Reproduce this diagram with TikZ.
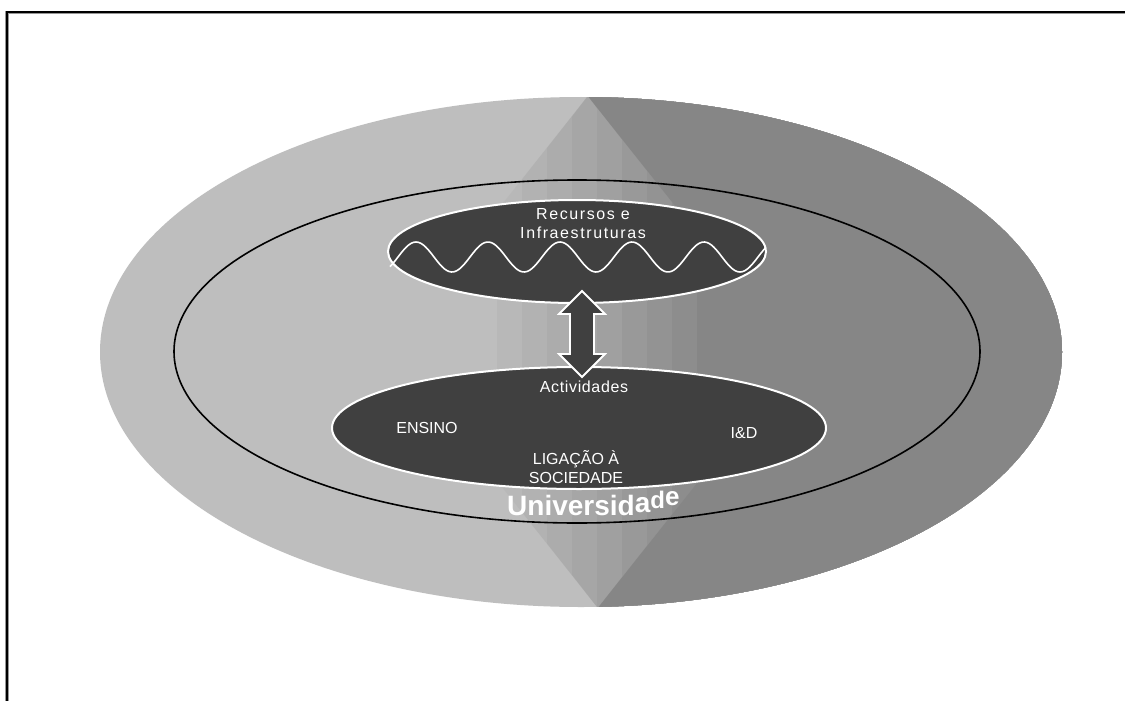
\documentclass[tikz,border=0pt]{standalone}
\usepackage{fontspec}
\setmainfont{Liberation Sans}
\usetikzlibrary{shapes.geometric}
\definecolor{darkfill}{RGB}{64,64,64}
\definecolor{lightside}{RGB}{190,190,190}
\definecolor{framegray}{RGB}{150,150,150}
\begin{document}
\begin{tikzpicture}[x=1pt,y=-1pt,
  blob/.style={ellipse, fill=darkfill, draw=white, line width=2pt, inner sep=0pt},
  lbl/.style={text=white, font=\fontsize{16}{19}\selectfont, align=center, inner sep=0pt},
  wave/.style={white, line width=1.6pt},
  arrowbody/.style={fill=darkfill, draw=white, line width=1.8pt, line join=miter},
  ring/.style={black, line width=1.6pt}]
\useasboundingbox (0,0) rectangle (1125,701);
\fill[white] (0,0) rectangle (1125,701);
% frame
\draw[framegray, line width=3.6pt] (1125,12.5) -- (7,12.5) -- (7,701);
\draw[black, line width=2pt] (1125,12.5) -- (7,12.5) -- (7,701);
% outer shaded ellipse
\begin{scope}
  \clip (581,352) ellipse [x radius=481, y radius=255];
  \fill[lightside] (0,0) rectangle (1125,701);
  \foreach \d/\c in {-100/184,-75/178,-50/172,-25/166,0/160,25/153,50/147,75/141,100/134}{
    \pgfmathsetmacro\yt{97+abs(597+\d-588)*1.25}
    \pgfmathsetmacro\yb{607-abs(597+\d-598)*1.25}
    \fill[fill={rgb,255:red,\c;green,\c;blue,\c}] (588,96) -- (597+\d,\yt) -- (597+\d,\yb) -- (598,608) -- (1125,620) -- (1125,80) -- cycle;
  }
\end{scope}
% inner ring
\draw[ring] (577,351.5) ellipse [x radius=403, y radius=171.5];
% top ellipse
\node[blob, minimum width=378, minimum height=103] (res) at (577,251.5) {};
\draw[wave] plot[domain=390:766, samples=160, smooth] (\x,{257-15*sin(5*(\x-398))});
\node[lbl] (reclbl) at (583,224) {\addfontfeature{LetterSpace=10}Recursos e\\\addfontfeature{LetterSpace=10}Infraestruturas};
% bottom ellipse
\node[blob, minimum width=494, minimum height=122] (act) at (579,428) {};
\node[lbl, anchor=base] (actlbl) at (584,392) {\addfontfeature{LetterSpace=4}Actividades};
\node[lbl, anchor=base] (ens) at (427,433) {ENSINO};
\node[lbl, anchor=base] (ied) at (744,438) {I\&D};
\node[lbl] (lig) at (576,467) {LIGAÇÃO À\\SOCIEDADE};
% double arrow between the two ellipses
\coordinate (atip) at ([yshift=13pt,xshift=5pt]res.south);
\draw[arrowbody] (atip) -- ++(23,23) -- ++(-11,0) -- ++(0,40) -- ++(11,0) -- ++(-23,23)
  -- ++(-23,-23) -- ++(11,0) -- ++(0,-40) -- ++(-11,0) -- cycle;
% Universidade
\node[anchor=base west, inner sep=0pt, text=white, font=\fontsize{28}{28}\selectfont\bfseries] (univ) at (507,515)
  {Universid\raisebox{3pt}{a}\raisebox{7pt}{\fontsize{24}{24}\selectfont d}\raisebox{10pt}{\fontsize{26}{26}\selectfont e}};
\end{tikzpicture}
\end{document}
